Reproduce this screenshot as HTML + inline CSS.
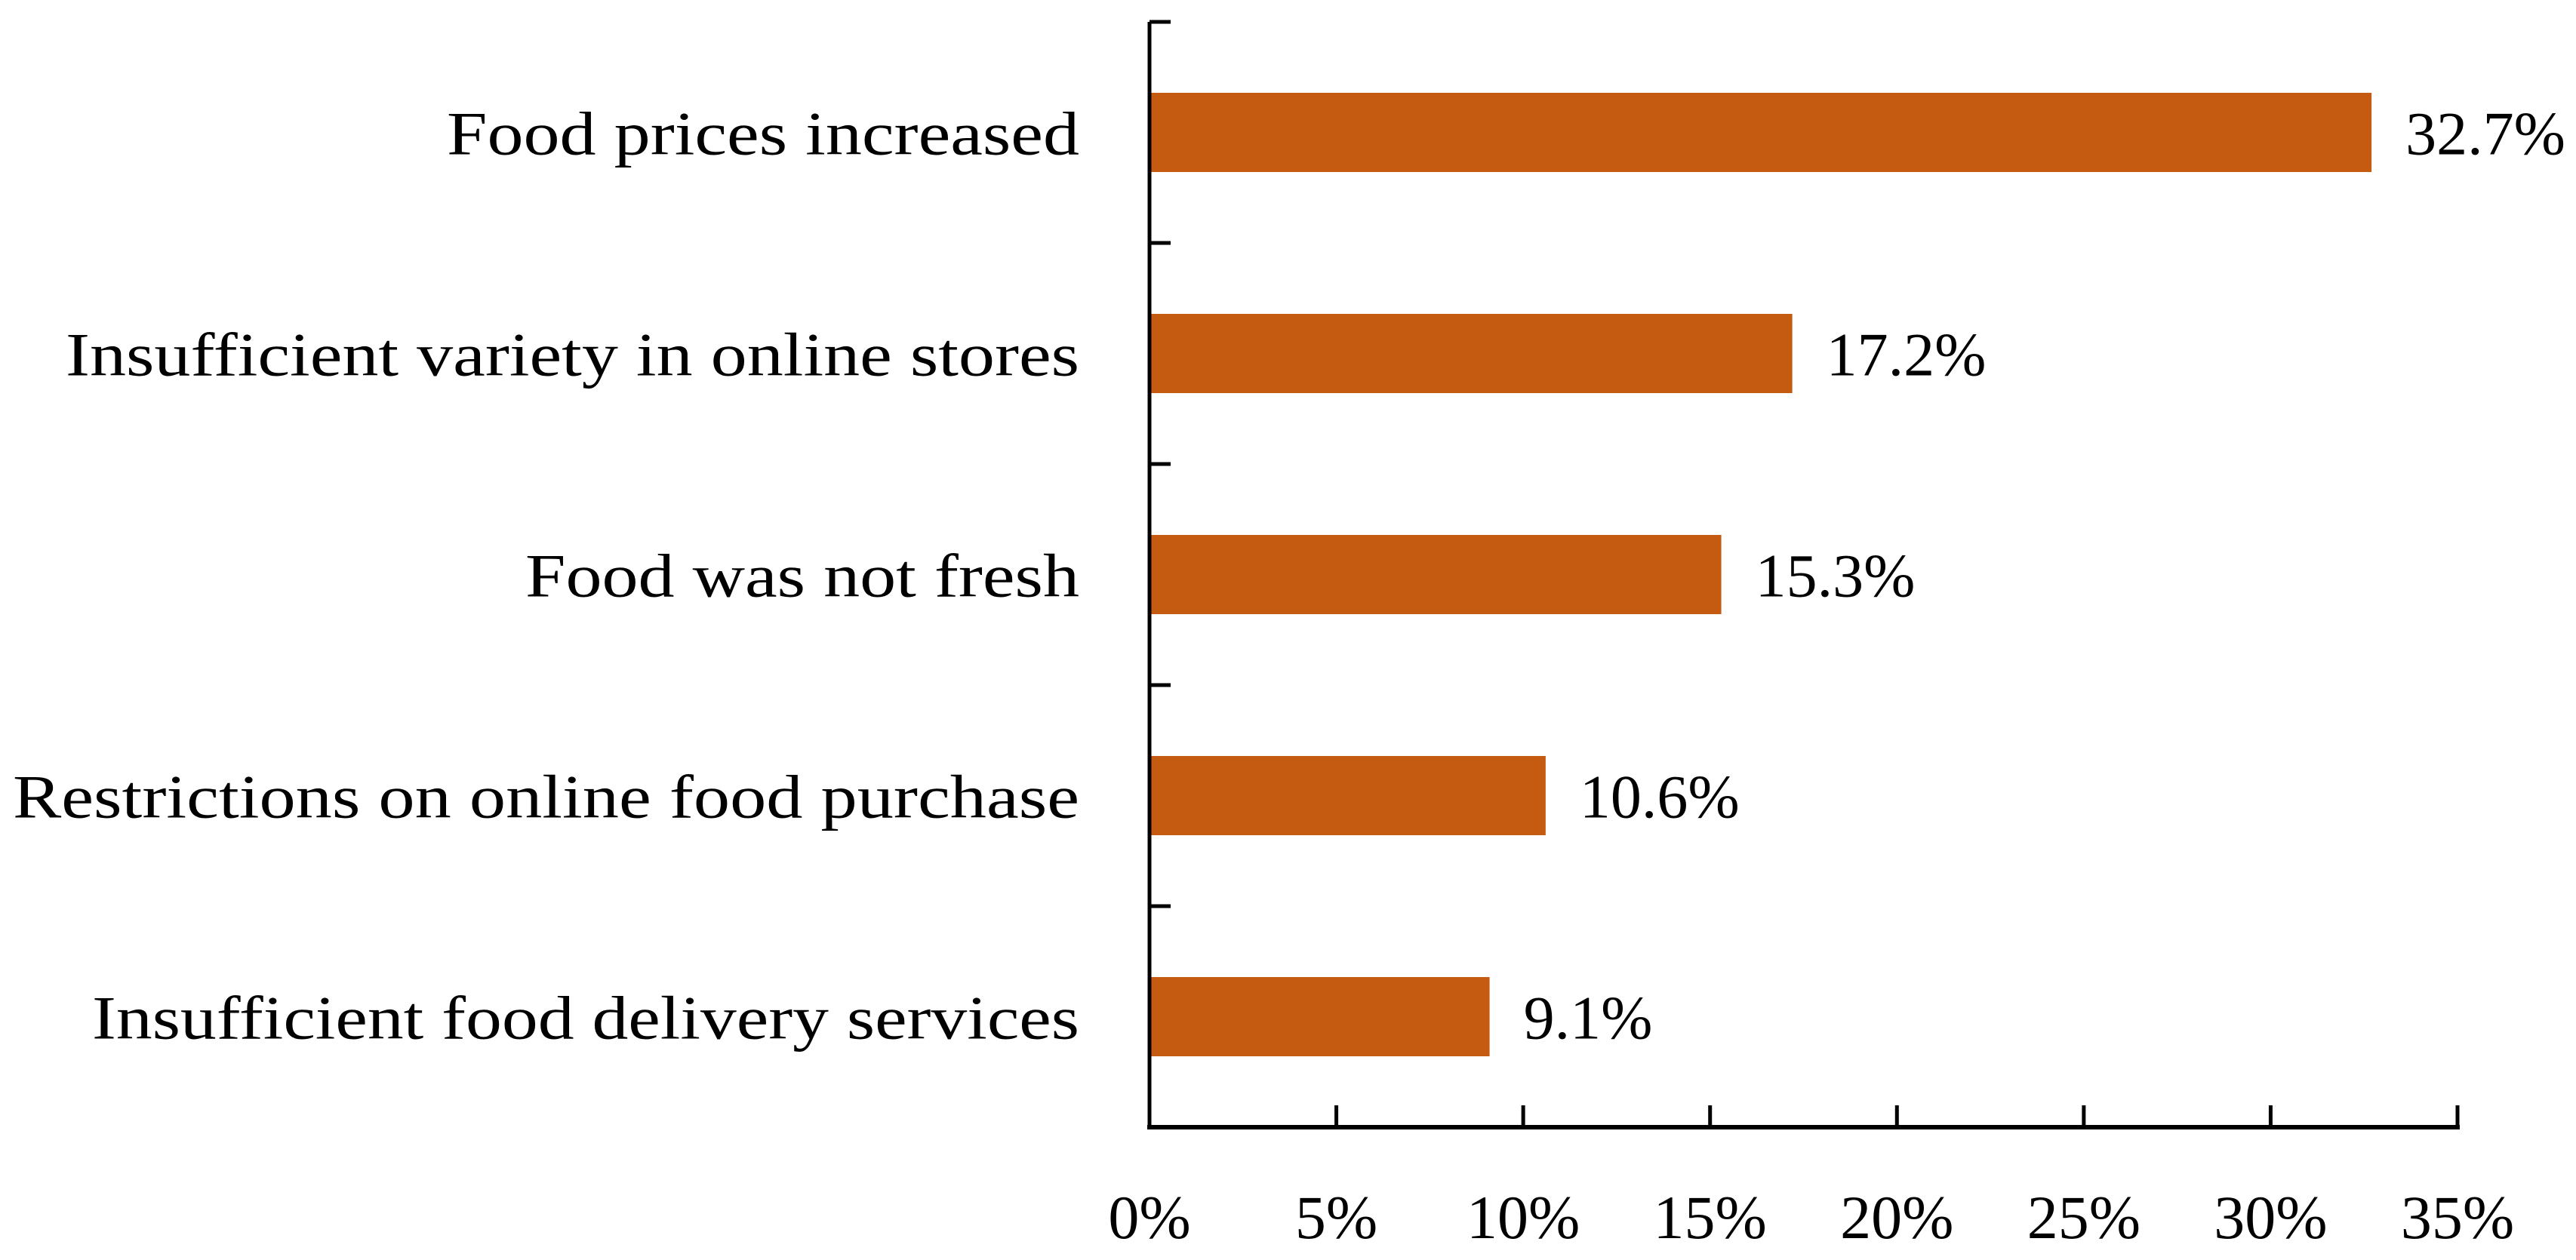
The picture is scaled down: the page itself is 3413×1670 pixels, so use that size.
<!DOCTYPE html>
<html><head><meta charset="utf-8"><style>html,body{margin:0;padding:0;background:#fff}svg{display:block}</style></head>
<body>
<svg id="chart" width="3413" height="1670" xmlns="http://www.w3.org/2000/svg" font-family="'Liberation Serif', serif">
</svg>
<script>
const categories = ["Food prices increased","Insufficient variety in online stores","Food was not fresh","Restrictions on online food purchase","Insufficient food delivery services"];
const values = [32.7, 17.2, 15.3, 10.6, 9.1];
const valueLabels = ["32.7%","17.2%","15.3%","10.6%","9.1%"];
const ticks = [0,5,10,15,20,25,30,35];
const tickLabels = ["0%","5%","10%","15%","20%","25%","30%","35%"];
const catWidths = [838,1343,734,1413,1308];

const svg = document.getElementById('chart');
const NS = 'http://www.w3.org/2000/svg';
const x0 = 1523, xMax = 35, xPx = 1733;
const yTop = 29, yBot = 1494;
const band = (yBot - yTop) / categories.length;
const barH = 105;
const xs = v => x0 + v / xMax * xPx;
const yc = i => yTop + band * (i + 0.5);
function mk(tag, attrs){const e=document.createElementNS(NS,tag);for(const k in attrs)e.setAttribute(k,attrs[k]);svg.appendChild(e);return e;}

categories.forEach((c,i)=>{
  const r = mk('rect',{x:x0,y:yc(i)-barH/2,width:xs(values[i])-x0,height:barH,fill:'#c55a11'});
  
  
  const t = mk('text',{x:1430,y:yc(i)+29,'text-anchor':'end','font-size':82,fill:'#000',textLength:catWidths[i],lengthAdjust:'spacingAndGlyphs'});
  t.textContent = c;
  
  
  const v = mk('text',{x:xs(values[i])+45,y:yc(i)+29,'font-size':82,fill:'#000'});
  v.textContent = valueLabels[i];
  
  
});

const ya = mk('line',{x1:x0,y1:yTop,x2:x0,y2:yBot+3,stroke:'#000','stroke-width':5});


for(let i=0;i<=categories.length;i++){
  const tk = mk('line',{x1:x0,y1:yTop+band*i,x2:x0+28,y2:yTop+band*i,stroke:'#000','stroke-width':5});
  
  
}
const xa = mk('line',{x1:x0-3,y1:yBot,x2:xs(35)+3,y2:yBot,stroke:'#000','stroke-width':6});


ticks.forEach((t,i)=>{
  const tk = mk('line',{x1:xs(t),y1:yBot,x2:xs(t),y2:yBot-29,stroke:'#000','stroke-width':5});
  
  
  const l = mk('text',{x:xs(t),y:1641,'text-anchor':'middle','font-size':82,fill:'#000'});
  l.textContent = tickLabels[i];
  
  
});
</script>
</body></html>
